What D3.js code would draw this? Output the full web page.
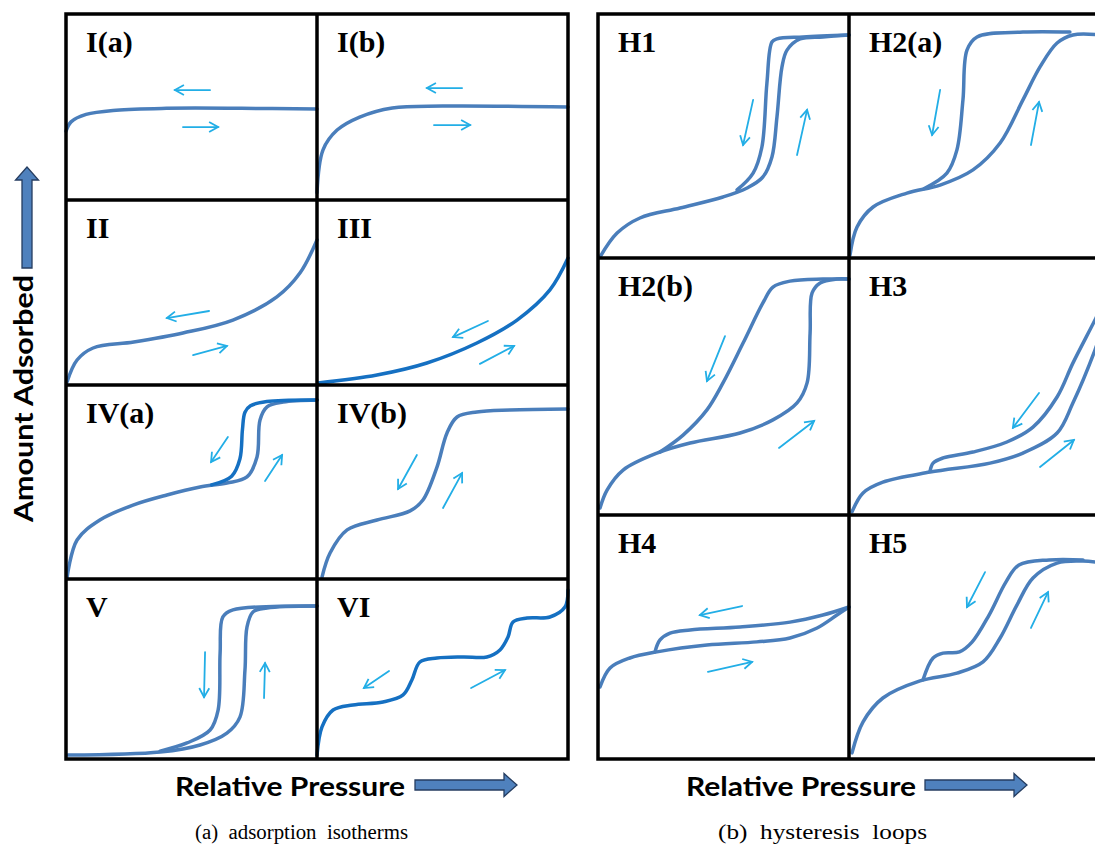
<!DOCTYPE html>
<html lang="en">
<head>
<meta charset="UTF-8">
<title>Adsorption isotherms and hysteresis loops</title>
<script src="https://d3js.org/d3.v7.min.js"></script>
<style>
    body {margin: 0; background: white;}
    .frame {fill: none; stroke: black; stroke-width: 3.5;}
    .curve {fill: none; stroke-width: 3.5; stroke-linecap: round; stroke-linejoin: round;}
    .dir {fill: none; stroke: #22aee6; stroke-width: 1.8; stroke-linecap: round;}
    .tag {font-family: "Liberation Serif", "Times New Roman", Times, serif; font-weight: bold; font-size: 30px;}
    .axis-title {font-family: Lato, "Open Sans", sans-serif; font-weight: bold; font-size: 26px;}
    .caption {font-family: "Liberation Serif", "Times New Roman", Times, serif; font-size: 20px; white-space: pre;}
    .big-arrow {fill: #4f81bd; stroke: #263d60; stroke-width: 1.3;}
</style>
</head>
<body>
<script>
    // curves as [relative pressure, amount adsorbed], both 0..1 inside a cell
    const isoIa = [[0,0.37],[0.02,0.42],[0.08,0.46],[0.2,0.483],[0.4,0.493],[0.7,0.493],[1,0.489]];
    const isoIb = [[0,0.04],[0.024,0.27],[0.08,0.376],[0.17,0.446],[0.3,0.495],[0.5,0.505],[1,0.5]];
    const isoII = [[0.004,0.016],[0.044,0.135],[0.108,0.2],[0.27,0.232],[0.466,0.281],[0.665,0.351],[0.84,0.476],[0.932,0.605],[1,0.784]];
    const isoIII = [[0.004,0.011],[0.239,0.054],[0.438,0.119],[0.637,0.227],[0.797,0.351],[0.928,0.514],[1,0.686]];
    const isoIVaAds = [[0.004,0.005],[0.044,0.201],[0.135,0.304],[0.267,0.381],[0.402,0.433],[0.534,0.474],[0.641,0.495],[0.721,0.526],[0.761,0.629],[0.773,0.82],[0.801,0.887],[0.865,0.912],[1,0.923]];
    const isoIVaDes = [[1,0.923],[0.8,0.915],[0.735,0.893],[0.713,0.86],[0.703,0.77],[0.693,0.62],[0.66,0.53],[0.58,0.485]];
    const isoIVb = [[0.02,0.01],[0.052,0.134],[0.12,0.253],[0.239,0.304],[0.371,0.351],[0.422,0.407],[0.478,0.577],[0.518,0.753],[0.558,0.835],[0.637,0.861],[0.769,0.871],[1,0.876]];
    const isoVAds = [[0.008,0.022],[0.375,0.039],[0.534,0.078],[0.641,0.144],[0.693,0.233],[0.713,0.494],[0.721,0.733],[0.745,0.817],[0.801,0.839],[1,0.85]];
    const isoVDes = [[1,0.85],[0.665,0.828],[0.625,0.789],[0.614,0.589],[0.606,0.272],[0.574,0.161],[0.482,0.089],[0.375,0.044]];
    const isoVI = [[0,0.022],[0.02,0.178],[0.064,0.272],[0.143,0.3],[0.263,0.317],[0.343,0.356],[0.378,0.439],[0.41,0.539],[0.478,0.561],[0.582,0.567],[0.677,0.567],[0.729,0.606],[0.761,0.678],[0.781,0.761],[0.837,0.783],[0.928,0.789],[0.988,0.844],[1,0.939]];

    const loopH1Ads = [[0.008,0.004],[0.076,0.102],[0.167,0.164],[0.327,0.205],[0.498,0.25],[0.594,0.287],[0.657,0.332],[0.693,0.414],[0.713,0.578],[0.733,0.783],[0.753,0.852],[0.805,0.898],[0.896,0.906],[1,0.914]];
    const loopH1Des = [[1,0.914],[0.817,0.906],[0.713,0.898],[0.693,0.885],[0.673,0.717],[0.653,0.455],[0.618,0.348],[0.554,0.279]];
    const loopH2aAds = [[0.004,0.012],[0.032,0.127],[0.096,0.209],[0.231,0.266],[0.363,0.299],[0.494,0.361],[0.602,0.471],[0.693,0.648],[0.761,0.783],[0.829,0.881],[0.892,0.914],[1,0.914]];
    const loopH2aDes = [[0.88,0.926],[0.693,0.926],[0.51,0.906],[0.47,0.852],[0.454,0.648],[0.43,0.443],[0.39,0.348],[0.3,0.285]];
    const loopH2bAds = [[0.008,0.027],[0.036,0.097],[0.1,0.175],[0.235,0.241],[0.367,0.28],[0.566,0.319],[0.697,0.37],[0.793,0.436],[0.833,0.514],[0.845,0.708],[0.853,0.864],[0.885,0.903],[0.952,0.918],[1,0.918]];
    const loopH2bDes = [[1,0.918],[0.896,0.918],[0.765,0.91],[0.697,0.887],[0.657,0.825],[0.578,0.669],[0.498,0.514],[0.434,0.409],[0.339,0.311],[0.247,0.245]];
    const loopH3Ads = [[0.012,0.012],[0.056,0.086],[0.135,0.128],[0.323,0.167],[0.562,0.202],[0.693,0.241],[0.829,0.319],[0.892,0.436],[0.98,0.642],[1,0.7]];
    const loopH3Des = [[1,0.8],[0.98,0.759],[0.892,0.591],[0.829,0.459],[0.733,0.342],[0.629,0.284],[0.494,0.245],[0.375,0.222],[0.335,0.202],[0.323,0.171]];
    const loopH4Ads = [[0.008,0.295],[0.048,0.373],[0.127,0.414],[0.235,0.439],[0.434,0.467],[0.633,0.48],[0.765,0.496],[0.873,0.537],[0.952,0.59],[1,0.623]];
    const loopH4Des = [[1,0.623],[0.896,0.59],[0.765,0.561],[0.566,0.541],[0.367,0.529],[0.287,0.516],[0.247,0.488],[0.227,0.439]];
    const loopH5Ads = [[0.012,0.025],[0.056,0.152],[0.135,0.25],[0.283,0.32],[0.43,0.352],[0.534,0.398],[0.602,0.496],[0.669,0.631],[0.733,0.742],[0.829,0.803],[0.932,0.811],[1,0.805]];
    const loopH5Des = [[0.932,0.816],[0.797,0.816],[0.677,0.795],[0.625,0.725],[0.558,0.59],[0.49,0.479],[0.44,0.439],[0.375,0.434],[0.335,0.414],[0.295,0.325]];

    // direction arrows [x1, y1, x2, y2] in the same cell units
    const arrowsIa = [[0.574,0.591,0.434,0.591],[0.466,0.392,0.606,0.392]];
    const arrowsIb = [[0.578,0.602,0.438,0.602],[0.466,0.403,0.61,0.403]];
    const arrowsII = [[0.57,0.4,0.402,0.362],[0.506,0.162,0.641,0.211]];
    const arrowsIII = [[0.681,0.346,0.542,0.259],[0.649,0.114,0.785,0.211]];
    const arrowsIVa = [[0.645,0.732,0.578,0.603],[0.793,0.505,0.861,0.639]];
    const arrowsIVb = [[0.398,0.639,0.323,0.464],[0.502,0.366,0.578,0.546]];
    const arrowsV = [[0.554,0.594,0.55,0.344],[0.789,0.339,0.793,0.533]];
    const arrowsVI = [[0.287,0.489,0.187,0.394],[0.614,0.394,0.749,0.494]];
    const arrowsH1 = [[0.618,0.648,0.578,0.463],[0.793,0.422,0.833,0.607]];
    const arrowsH2a = [[0.363,0.689,0.331,0.504],[0.725,0.463,0.757,0.639]];
    const arrowsH2b = [[0.506,0.696,0.434,0.521],[0.721,0.261,0.861,0.366]];
    const arrowsH3 = [[0.757,0.475,0.653,0.339],[0.761,0.187,0.896,0.292]];
    const arrowsH4 = [[0.574,0.627,0.406,0.59],[0.438,0.357,0.614,0.398]];
    const arrowsH5 = [[0.542,0.766,0.47,0.623],[0.725,0.537,0.793,0.684]];

    const tagsA = ["I(a)", "I(b)", "II", "III", "IV(a)", "IV(b)", "V", "VI"];
    const tagsB = ["H1", "H2(a)", "H2(b)", "H3", "H4", "H5"];
    const captions = ["(a)  adsorption  isotherms", "(b)  hysteresis  loops"];
    const xTitle = "Relative Pressure";
    const yTitle = "Amount Adsorbed";

    // tone 0 = usual blue, 1 = deep blue
    const curvesA = [
        [[isoIa, 0]], [[isoIb, 0]], [[isoII, 0]], [[isoIII, 1]],
        [[isoIVaAds, 0], [isoIVaDes, 1]], [[isoIVb, 0]],
        [[isoVAds, 0], [isoVDes, 0]], [[isoVI, 1]]
    ];
    const arrowsA = [arrowsIa, arrowsIb, arrowsII, arrowsIII, arrowsIVa, arrowsIVb, arrowsV, arrowsVI];
    const curvesB = [
        [[loopH1Ads, 0], [loopH1Des, 0]], [[loopH2aAds, 0], [loopH2aDes, 0]],
        [[loopH2bAds, 0], [loopH2bDes, 0]], [[loopH3Ads, 0], [loopH3Des, 0]],
        [[loopH4Ads, 0], [loopH4Des, 0]], [[loopH5Ads, 0], [loopH5Des, 0]]
    ];
    const arrowsB = [arrowsH1, arrowsH2a, arrowsH2b, arrowsH3, arrowsH4, arrowsH5];

    const width = 1095, height = 848;
    const tones = ["#4a7ebb", "#1570c2"];

    const svg = d3.select("body").append("svg")
        .attr("width", width).attr("height", height);

    svg.append("defs").append("marker")
        .attr("id", "head")
        .attr("viewBox", "-11 -7 13 14")
        .attr("markerWidth", 13).attr("markerHeight", 14)
        .attr("markerUnits", "userSpaceOnUse")
        .attr("refX", 0).attr("refY", 0)
        .attr("orient", "auto")
        .append("path")
        .attr("d", "M-9,-5L0,0L-9,5")
        .attr("fill", "none")
        .attr("stroke", "#22aee6")
        .attr("stroke-width", 1.8);

    const blockA = {cols: [66, 317, 568], rows: [14, 200, 385, 579, 759]};
    const blockB = {cols: [598, 849, 1100], rows: [14, 258, 515, 759]};

    function drawBlock(block, tags, curves, arrows) {
        const g = svg.append("g");
        tags.forEach((tag, i) => {
            const c = i % 2, r = Math.floor(i / 2);
            const x = d3.scaleLinear().domain([0, 1]).range([block.cols[c], block.cols[c + 1]]);
            const y = d3.scaleLinear().domain([0, 1]).range([block.rows[r + 1], block.rows[r]]);
            const line = d3.line()
                .x(d => x(d[0])).y(d => y(d[1]))
                .curve(d3.curveCatmullRom.alpha(0.5));

            const cell = g.append("g");
            cell.selectAll("path.curve")
                .data(curves[i]).enter()
                .append("path").attr("class", "curve")
                .attr("stroke", d => tones[d[1]])
                .attr("d", d => line(d[0]));

            cell.selectAll("line.dir")
                .data(arrows[i]).enter()
                .append("line").attr("class", "dir")
                .attr("x1", d => x(d[0])).attr("y1", d => y(d[1]))
                .attr("x2", d => x(d[2])).attr("y2", d => y(d[3]))
                .attr("marker-end", "url(#head)");

            cell.append("text").attr("class", "tag")
                .attr("x", block.cols[c] + 20)
                .attr("y", block.rows[r] + 38)
                .text(tag);
        });

        // frame and grid lines
        const [xa, xm, xb] = block.cols;
        const rows = block.rows;
        g.append("rect").attr("class", "frame")
            .attr("x", xa).attr("y", rows[0])
            .attr("width", xb - xa).attr("height", rows[rows.length - 1] - rows[0]);
        g.append("line").attr("class", "frame")
            .attr("x1", xm).attr("x2", xm)
            .attr("y1", rows[0]).attr("y2", rows[rows.length - 1]);
        g.selectAll("line.hrow")
            .data(rows.slice(1, -1)).enter()
            .append("line").attr("class", "frame hrow")
            .attr("x1", xa).attr("x2", xb)
            .attr("y1", d => d).attr("y2", d => d);
    }

    drawBlock(blockA, tagsA, curvesA, arrowsA);
    drawBlock(blockB, tagsB, curvesB, arrowsB);

    // fat block arrow pointing along +x
    function bigArrow(transform, len) {
        const hl = 13, hw = 11.5, sw = 5;
        svg.append("path").attr("class", "big-arrow")
            .attr("transform", transform)
            .attr("d", `M0,${-sw}H${len - hl}V${-hw}L${len},0L${len - hl},${hw}V${sw}H0Z`);
    }

    // y title
    svg.append("text").attr("class", "axis-title")
        .attr("transform", "translate(33,522) rotate(-90)")
        .attr("textLength", 247).attr("lengthAdjust", "spacingAndGlyphs")
        .text(yTitle);
    bigArrow("translate(27,268) rotate(-90)", 101);

    // x titles
    [[175, 415], [686, 925]].forEach(([tx, ax]) => {
        svg.append("text").attr("class", "axis-title")
            .attr("x", tx).attr("y", 796)
            .attr("textLength", 230).attr("lengthAdjust", "spacingAndGlyphs")
            .text(xTitle);
        bigArrow(`translate(${ax},785)`, 102);
    });

    // captions
    [[195, 213], [718, 209]].forEach(([cx, len], i) => {
        svg.append("text").attr("class", "caption")
            .attr("x", cx).attr("y", 839)
            .attr("textLength", len).attr("lengthAdjust", "spacingAndGlyphs")
            .text(captions[i]);
    });
</script>
</body>
</html>
